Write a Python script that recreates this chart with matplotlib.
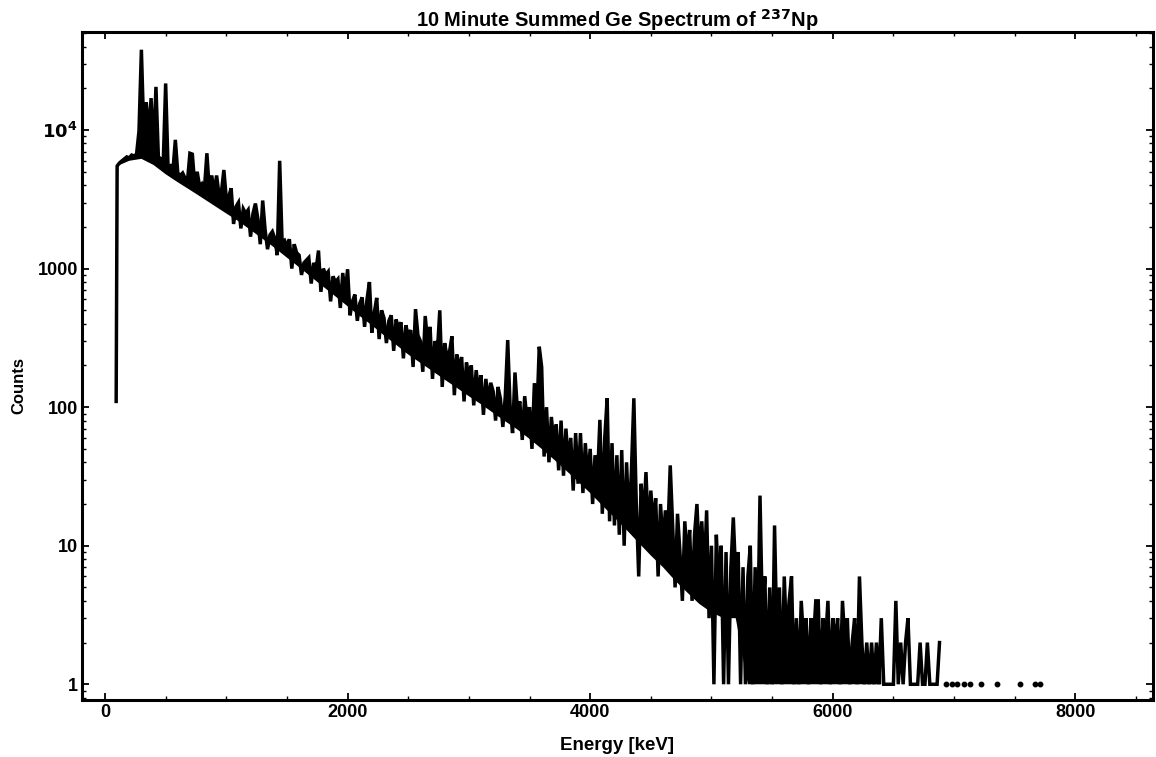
import numpy as np
import matplotlib
matplotlib.use("Agg")
import matplotlib.pyplot as plt
from matplotlib.ticker import FixedLocator, LogLocator, NullFormatter

plt.rcParams['font.family'] = ['Liberation Sans', 'DejaVu Sans']
plt.rcParams['font.weight'] = 'bold'
plt.rcParams['mathtext.default'] = 'bf'

## Spectrum: onset point, then 20 keV bins from 100 keV
onsetEnergy = 92
onsetCounts = 110
binStart, binStep = 100, 20
counts = [
    5500, 5800, 6000, 6200, 6400, 6300, 6600, 6500, 6700, 9800,
    38000, 9500, 15900, 9200, 17000, 6800, 20500, 6400, 6200, 5800,
    21700, 5300, 5500, 5100, 8500, 4900, 4700, 4900, 4500, 4300,
    6800, 6700, 4000, 5000, 3900, 4100, 3800, 6800, 3700, 4700,
    3500, 4700, 3400, 3600, 5150, 3200, 3300, 3800, 2100, 2800,
    3000, 1950, 2700, 2500, 2650, 1700, 2500, 2950, 2300, 1500,
    3100, 1900, 1380, 1750, 1850, 1650, 1250, 6000, 1550, 1600,
    1450, 1630, 1000, 1500, 1300, 1250, 900, 1100, 1150, 1200,
    780, 1100, 980, 1350, 680, 1000, 900, 950, 580, 880,
    800, 840, 520, 930, 650, 990, 460, 580, 650, 420,
    560, 620, 380, 600, 800, 345, 480, 615, 310, 500,
    440, 290, 420, 460, 255, 430, 370, 410, 225, 390,
    330, 360, 195, 510, 330, 300, 180, 455, 290, 380,
    160, 300, 250, 500, 140, 290, 230, 250, 325, 122,
    240, 190, 230, 110, 210, 165, 200, 103, 185, 130,
    170, 88, 160, 110, 150, 130, 80, 140, 115, 72,
    120, 305, 100, 65, 178, 95, 110, 58, 120, 80,
    100, 50, 149, 85, 273, 195, 44, 100, 40, 85,
    55, 75, 35, 80, 32, 70, 40, 60, 25, 65,
    28, 65, 24, 55, 30, 50, 20, 45, 30, 81,
    17, 60, 116, 15, 55, 14, 45, 12, 49, 10,
    40, 14, 35, 116, 20, 6, 28, 15, 34, 12,
    25, 14, 22, 6, 20, 10, 18, 12, 38, 14,
    5, 17, 9, 4, 15, 8, 13, 4, 12, 20,
    8, 15, 6, 18, 3, 10, 1, 12, 5, 10,
    1, 9, 1, 7, 16, 6, 9, 1, 7, 1,
    6, 10, 1, 7, 2, 23, 3, 6, 1, 5,
    1, 14, 2, 5, 1, 6, 2, 4, 6, 1,
    3, 1, 4, 2, 3, 1, 3, 2, 4, 4,
    1, 3, 2, 4, 1, 3, 2, 3, 1, 4,
    2, 3, 1, 2, 3, 1, 6, 2, 1, 2,
    1, 2, 1, 2, 1, 3, 1, 1, 1, 1,
    1, 4, 1, 2, 1, 2, 3, 1, 1, 1,
    1, 2, 1, 1, 2, 1, 1, 1, 1, 2,
]
## Lower edge of the dense channel band (the many 1 keV channels fill it solid)
floorEnergies = list(range(100, 6500, 100))
floorCounts = [
    5500, 6000, 6200, 5600, 4800, 4200, 3700, 3250, 2850, 2500,
    2200, 1900, 1640, 1410, 1200, 1025, 870, 740, 630, 535,
    455, 390, 330, 282, 240, 209, 182, 158, 138, 120,
    105, 91, 79, 69, 59, 50, 42, 35, 29, 24,
    19.5, 16, 13, 10.5, 8.5, 7, 5.6, 4.6, 3.8, 3.3,
    3, 3, 1, 1, 1, 1, 1, 1, 1, 1,
    1, 1, 1, 1,
]
## Isolated single-count channels in the tail
tailEnergies = [6930, 6985, 7025, 7080, 7135, 7220, 7350, 7540, 7670, 7705]
tailCounts = [1, 1, 1, 1, 1, 1, 1, 1, 1, 1]

energies = np.concatenate([[onsetEnergy], binStart + binStep*np.arange(len(counts))])
values = np.concatenate([[onsetCounts], counts])

fig = plt.figure(figsize=(11.56, 7.57), dpi=100)
ax = fig.add_axes([0.0709, 0.0753, 0.9265, 0.8824])

## band: upper trace joined back along the lower edge
inBand = (energies >= floorEnergies[0]) & (energies <= floorEnergies[-1])
ax.fill(np.concatenate([energies[inBand], floorEnergies[::-1]]),
        np.concatenate([values[inBand], floorCounts[::-1]]),
        color="black", linewidth=0)
ax.plot(energies, values, color="black", linewidth=2.5, solid_joinstyle="miter")
ax.plot(tailEnergies, tailCounts, linestyle="none", marker="o", markersize=3.2, color="black")

ax.set_yscale("log")
ax.set_xlim(-190, 8640)
ax.set_ylim(0.77, 51000)

## Frame ticks, Mathematica style
ax.xaxis.set_major_locator(FixedLocator([0, 2000, 4000, 6000, 8000]))
ax.xaxis.set_minor_locator(FixedLocator(np.arange(0, 8700, 500)))
ax.yaxis.set_major_locator(FixedLocator([1, 10, 100, 1000, 10000]))
ax.yaxis.set_minor_locator(LogLocator(base=10, subs=np.arange(2, 10)))
ax.yaxis.set_minor_formatter(NullFormatter())
ax.set_yticklabels(["1", "10", "100", "1000", "$\\mathbf{10^4}$"])
ax.set_xticklabels(["0", "2000", "4000", "6000", "8000"])
ax.tick_params(which="both", direction="in", top=True, right=True, colors="black", labelsize=13, pad=3)
ax.tick_params(which="major", length=5, width=1.3)
ax.tick_params(which="minor", length=3, width=1.0)
for border in ["top", "bottom", "left", "right"]:
    ax.spines[border].set_linewidth(2.2)
    ax.spines[border].set_color("black")

fig.text(0.534, 1 - 27/757, "10 Minute Summed Ge Spectrum of $\\mathbf{^{237}}$Np",
         fontsize=14.5, fontweight="bold", ha="center", va="baseline")
fig.text(0.534, 1 - 745/757, "Energy [keV]", fontsize=13.5, fontweight="bold", ha="center", va="center")
fig.text(19/1156, 1 - 385/757, "Counts", fontsize=12, fontweight="bold", rotation=90,
         ha="center", va="center")

fig.savefig("out.png", dpi=100)
